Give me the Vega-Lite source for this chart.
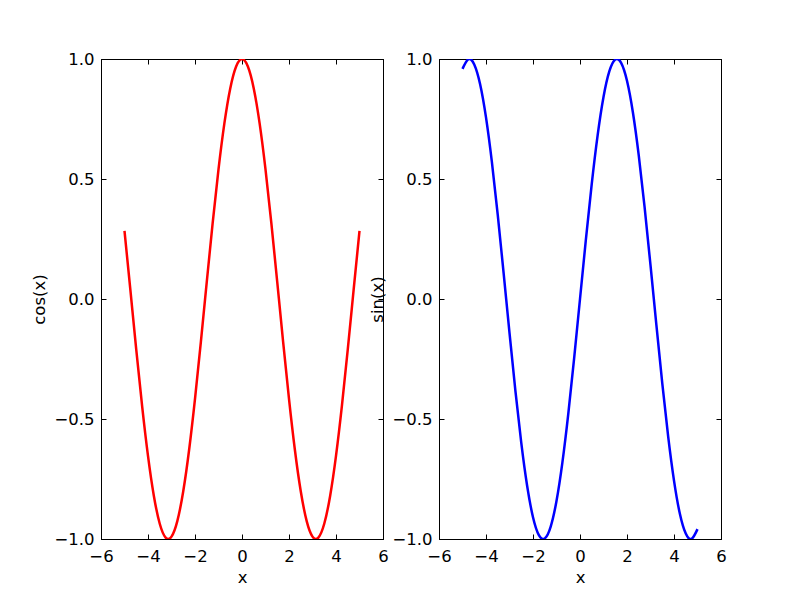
{
  "$schema": "https://vega.github.io/schema/vega-lite/v6.json",
  "autosize": {"type": "pad"},
  "padding": {"left": 30, "top": 50, "right": 80, "bottom": 5},
  "bounds": "flush",
  "spacing": 56,
  "background": "white",
  "config": {
    "view": {"stroke": "black", "strokeWidth": 1},
    "axis": {
      "grid": false,
      "domainColor": "black",
      "tickColor": "black",
      "tickSize": -5,
      "labelFlush": false,
      "labelOverlap": false,
      "labelFont": "DejaVu Sans",
      "labelFontSize": 16.5,
      "labelColor": "black",
      "titleFont": "DejaVu Sans",
      "titleFontSize": 16.5,
      "titleFontWeight": "normal",
      "titleColor": "black"
    }
  },
  "data": {"values": [
    {"x": -5.0, "cos": 0.2837, "sin": 0.9589},
    {"x": -4.75, "cos": 0.0376, "sin": 0.9993},
    {"x": -4.5, "cos": -0.2108, "sin": 0.9775},
    {"x": -4.25, "cos": -0.4461, "sin": 0.8950},
    {"x": -4.0, "cos": -0.6536, "sin": 0.7568},
    {"x": -3.75, "cos": -0.8206, "sin": 0.5716},
    {"x": -3.5, "cos": -0.9365, "sin": 0.3508},
    {"x": -3.25, "cos": -0.9941, "sin": 0.1082},
    {"x": -3.0, "cos": -0.9900, "sin": -0.1411},
    {"x": -2.75, "cos": -0.9243, "sin": -0.3817},
    {"x": -2.5, "cos": -0.8011, "sin": -0.5985},
    {"x": -2.25, "cos": -0.6282, "sin": -0.7781},
    {"x": -2.0, "cos": -0.4161, "sin": -0.9093},
    {"x": -1.75, "cos": -0.1782, "sin": -0.9840},
    {"x": -1.5, "cos": 0.0707, "sin": -0.9975},
    {"x": -1.25, "cos": 0.3153, "sin": -0.9490},
    {"x": -1.0, "cos": 0.5403, "sin": -0.8415},
    {"x": -0.75, "cos": 0.7317, "sin": -0.6816},
    {"x": -0.5, "cos": 0.8776, "sin": -0.4794},
    {"x": -0.25, "cos": 0.9689, "sin": -0.2474},
    {"x": 0.0, "cos": 1.0, "sin": 0.0},
    {"x": 0.25, "cos": 0.9689, "sin": 0.2474},
    {"x": 0.5, "cos": 0.8776, "sin": 0.4794},
    {"x": 0.75, "cos": 0.7317, "sin": 0.6816},
    {"x": 1.0, "cos": 0.5403, "sin": 0.8415},
    {"x": 1.25, "cos": 0.3153, "sin": 0.9490},
    {"x": 1.5, "cos": 0.0707, "sin": 0.9975},
    {"x": 1.75, "cos": -0.1782, "sin": 0.9840},
    {"x": 2.0, "cos": -0.4161, "sin": 0.9093},
    {"x": 2.25, "cos": -0.6282, "sin": 0.7781},
    {"x": 2.5, "cos": -0.8011, "sin": 0.5985},
    {"x": 2.75, "cos": -0.9243, "sin": 0.3817},
    {"x": 3.0, "cos": -0.9900, "sin": 0.1411},
    {"x": 3.25, "cos": -0.9941, "sin": -0.1082},
    {"x": 3.5, "cos": -0.9365, "sin": -0.3508},
    {"x": 3.75, "cos": -0.8206, "sin": -0.5716},
    {"x": 4.0, "cos": -0.6536, "sin": -0.7568},
    {"x": 4.25, "cos": -0.4461, "sin": -0.8950},
    {"x": 4.5, "cos": -0.2108, "sin": -0.9775},
    {"x": 4.75, "cos": 0.0376, "sin": -0.9993},
    {"x": 5.0, "cos": 0.2837, "sin": -0.9589}
  ]},
  "hconcat": [
    {
      "width": 282,
      "height": 480,
      "resolve": {"axis": {"x": "independent", "y": "independent"}},
      "layer": [
        {
          "mark": {"type": "line", "color": "#ff0000", "strokeWidth": 2.5, "interpolate": "natural", "clip": true},
          "encoding": {
            "x": {"field": "x", "type": "quantitative", "scale": {"domain": [-6, 6], "nice": false},
                  "axis": {"title": "x", "values": [-6, -4, -2, 0, 2, 4, 6], "format": "d", "labelExpr": "replace(datum.label, '-', '\u2212')", "labelPadding": 14, "titlePadding": 5}},
            "y": {"field": "cos", "type": "quantitative", "scale": {"domain": [-1, 1], "nice": false, "zero": false},
                  "axis": {"title": "cos(x)", "values": [-1, -0.5, 0, 0.5, 1], "format": ".1f", "labelExpr": "replace(datum.label, '-', '\u2212')", "labelPadding": 12, "titleX": -62, "titleY": 240, "titleAngle": -90, "titleAlign": "center", "titleBaseline": "middle"}}
          }
        },
        {
          "mark": {"type": "line", "opacity": 0},
          "encoding": {
            "x": {"field": "x", "type": "quantitative", "scale": {"domain": [-6, 6], "nice": false},
                  "axis": {"orient": "top", "title": null, "labels": false, "values": [-6, -4, -2, 0, 2, 4, 6]}},
            "y": {"field": "cos", "type": "quantitative", "scale": {"domain": [-1, 1], "nice": false, "zero": false},
                  "axis": {"orient": "right", "title": null, "labels": false, "values": [-1, -0.5, 0, 0.5, 1]}}
          }
        }
      ]
    },
    {
      "width": 282,
      "height": 480,
      "resolve": {"axis": {"x": "independent", "y": "independent"}},
      "layer": [
        {
          "mark": {"type": "line", "color": "#0000ff", "strokeWidth": 2.5, "interpolate": "natural", "clip": true},
          "encoding": {
            "x": {"field": "x", "type": "quantitative", "scale": {"domain": [-6, 6], "nice": false},
                  "axis": {"title": "x", "values": [-6, -4, -2, 0, 2, 4, 6], "format": "d", "labelExpr": "replace(datum.label, '-', '\u2212')", "labelPadding": 14, "titlePadding": 5}},
            "y": {"field": "sin", "type": "quantitative", "scale": {"domain": [-1, 1], "nice": false, "zero": false},
                  "axis": {"title": "sin(x)", "values": [-1, -0.5, 0, 0.5, 1], "format": ".1f", "labelExpr": "replace(datum.label, '-', '\u2212')", "labelPadding": 12, "titleX": -62, "titleY": 240, "titleAngle": -90, "titleAlign": "center", "titleBaseline": "middle"}}
          }
        },
        {
          "mark": {"type": "line", "opacity": 0},
          "encoding": {
            "x": {"field": "x", "type": "quantitative", "scale": {"domain": [-6, 6], "nice": false},
                  "axis": {"orient": "top", "title": null, "labels": false, "values": [-6, -4, -2, 0, 2, 4, 6]}},
            "y": {"field": "sin", "type": "quantitative", "scale": {"domain": [-1, 1], "nice": false, "zero": false},
                  "axis": {"orient": "right", "title": null, "labels": false, "values": [-1, -0.5, 0, 0.5, 1]}}
          }
        }
      ]
    }
  ]
}
